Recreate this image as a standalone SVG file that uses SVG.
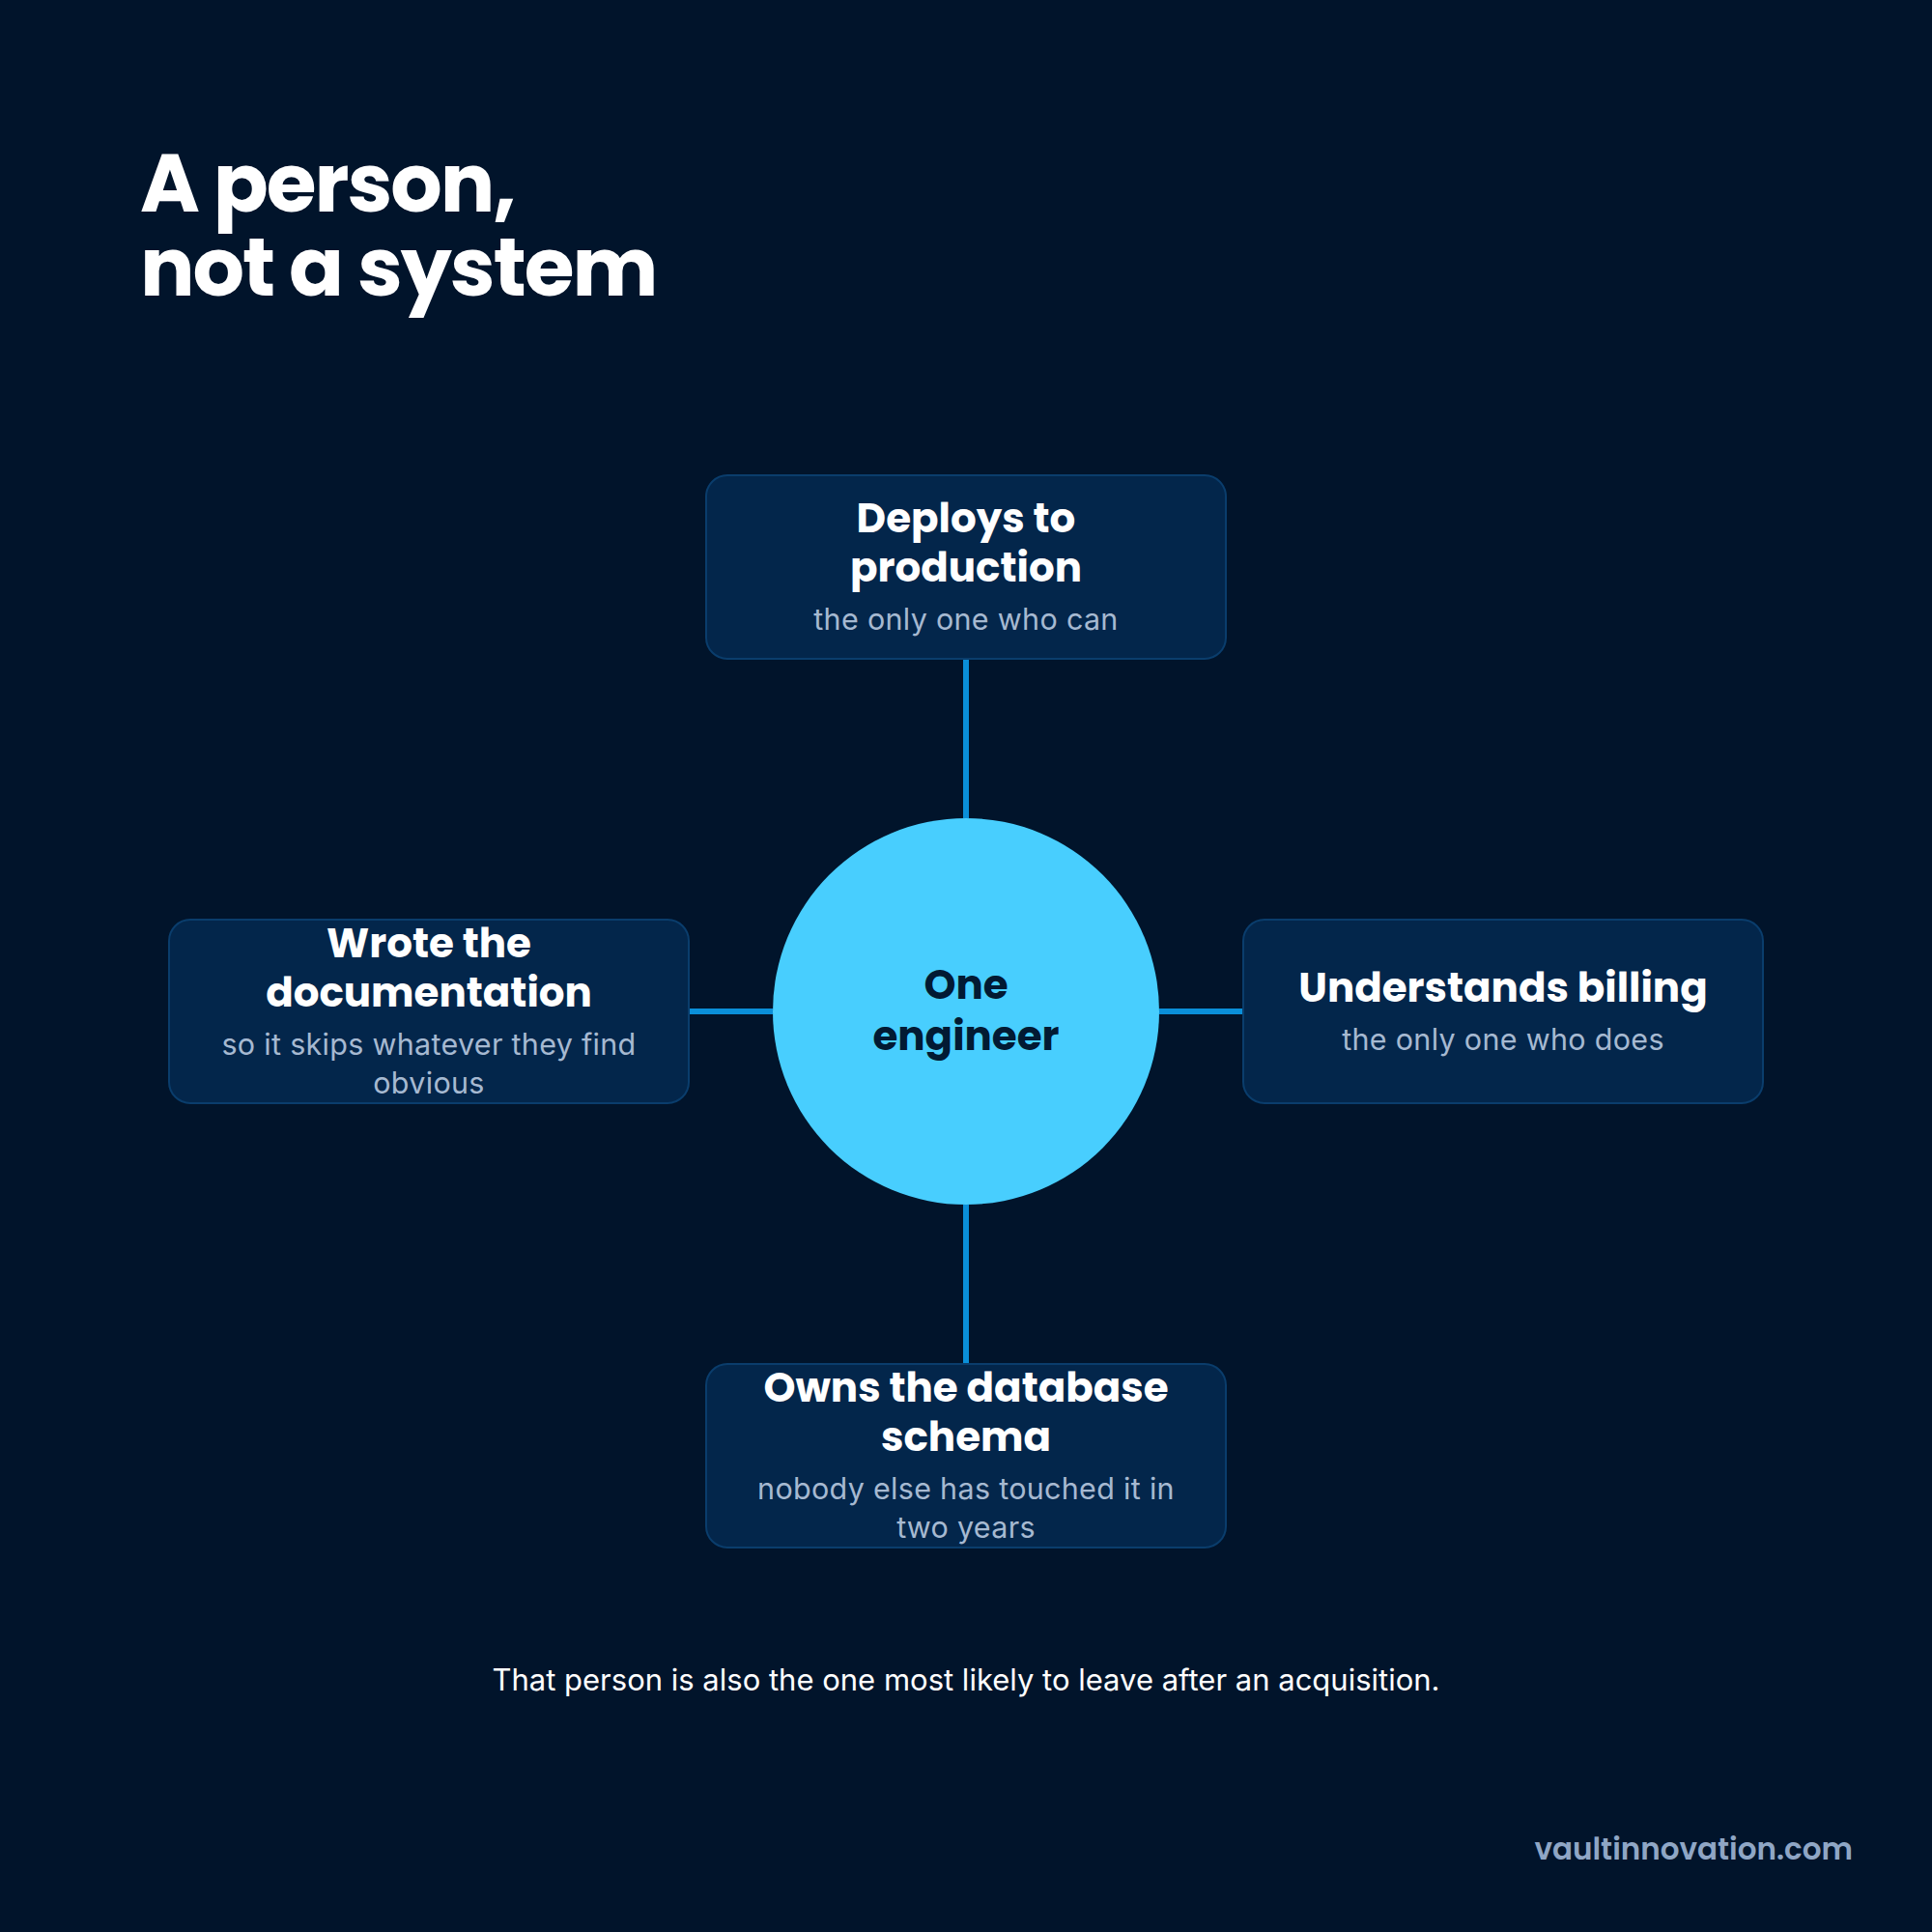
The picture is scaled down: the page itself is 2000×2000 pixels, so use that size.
<svg xmlns="http://www.w3.org/2000/svg" width="2000" height="2000" viewBox="0 0 2000 2000">
<style>
.bg{fill:#01142b}
.box{fill:#03264b;stroke:#0a3d6c;stroke-width:2}
.h{font-family:"Poppins","Inter","Liberation Sans",sans-serif;font-weight:700;fill:#ffffff;text-anchor:middle;font-size:42px}
.s{font-family:"Inter","Liberation Sans",sans-serif;font-weight:400;fill:#a6b9d1;text-anchor:middle;font-size:30.5px;letter-spacing:0.3px}
.ctr{font-family:"Poppins","Inter","Liberation Sans",sans-serif;font-weight:700;fill:#021a33;text-anchor:middle;font-size:42px}
.conn line{stroke:#0a8fd9;stroke-width:6}
</style>
<rect class="bg" x="0" y="0" width="2000" height="2000"/>
<g id="title">
<text font-family="Poppins, Inter, 'Liberation Sans', sans-serif" font-weight="700" font-size="84" fill="#ffffff" letter-spacing="-2"><tspan x="145" y="219">A person,</tspan><tspan x="145" y="306">not a system</tspan></text>
</g>
<g id="connectors" class="conn">
<line x1="1000" y1="682" x2="1000" y2="847"/>
<line x1="1000" y1="1247" x2="1000" y2="1412"/>
<line x1="713" y1="1047" x2="800" y2="1047"/>
<line x1="1200" y1="1047" x2="1287" y2="1047"/>
</g>
<g id="node-center">
<circle cx="1000" cy="1047" r="200" fill="#48cefe"/>
<text class="ctr"><tspan x="1000" y="1034">One</tspan><tspan x="1000" y="1087">engineer</tspan></text>
</g>
<g id="node-top">
<rect class="box" x="731" y="492" width="538" height="190" rx="22"/>
<text class="h"><tspan x="1000" y="551">Deploys to</tspan><tspan x="1000" y="602">production</tspan></text>
<text class="s" x="1000" y="652">the only one who can</text>
</g>
<g id="node-left">
<rect class="box" x="175" y="952" width="538" height="190" rx="22"/>
<text class="h"><tspan x="444" y="991">Wrote the</tspan><tspan x="444" y="1042">documentation</tspan></text>
<text class="s"><tspan x="444" y="1092">so it skips whatever they find</tspan><tspan x="444" y="1132">obvious</tspan></text>
</g>
<g id="node-right">
<rect class="box" x="1287" y="952" width="538" height="190" rx="22"/>
<text class="h" x="1556" y="1037">Understands billing</text>
<text class="s" x="1556" y="1087">the only one who does</text>
</g>
<g id="node-bottom">
<rect class="box" x="731" y="1412" width="538" height="190" rx="22"/>
<text class="h"><tspan x="1000" y="1451">Owns the database</tspan><tspan x="1000" y="1502">schema</tspan></text>
<text class="s"><tspan x="1000" y="1552">nobody else has touched it in</tspan><tspan x="1000" y="1592">two years</tspan></text>
</g>
<text x="1000" y="1750" font-family="Inter, 'Liberation Sans', sans-serif" font-size="31" fill="#ffffff" text-anchor="middle">That person is also the one most likely to leave after an acquisition.</text>
<text x="1918" y="1925" font-family="Poppins, Inter, 'Liberation Sans', sans-serif" font-weight="600" font-size="31" fill="#8fa6c5" text-anchor="end">vaultinnovation.com</text>
</svg>
